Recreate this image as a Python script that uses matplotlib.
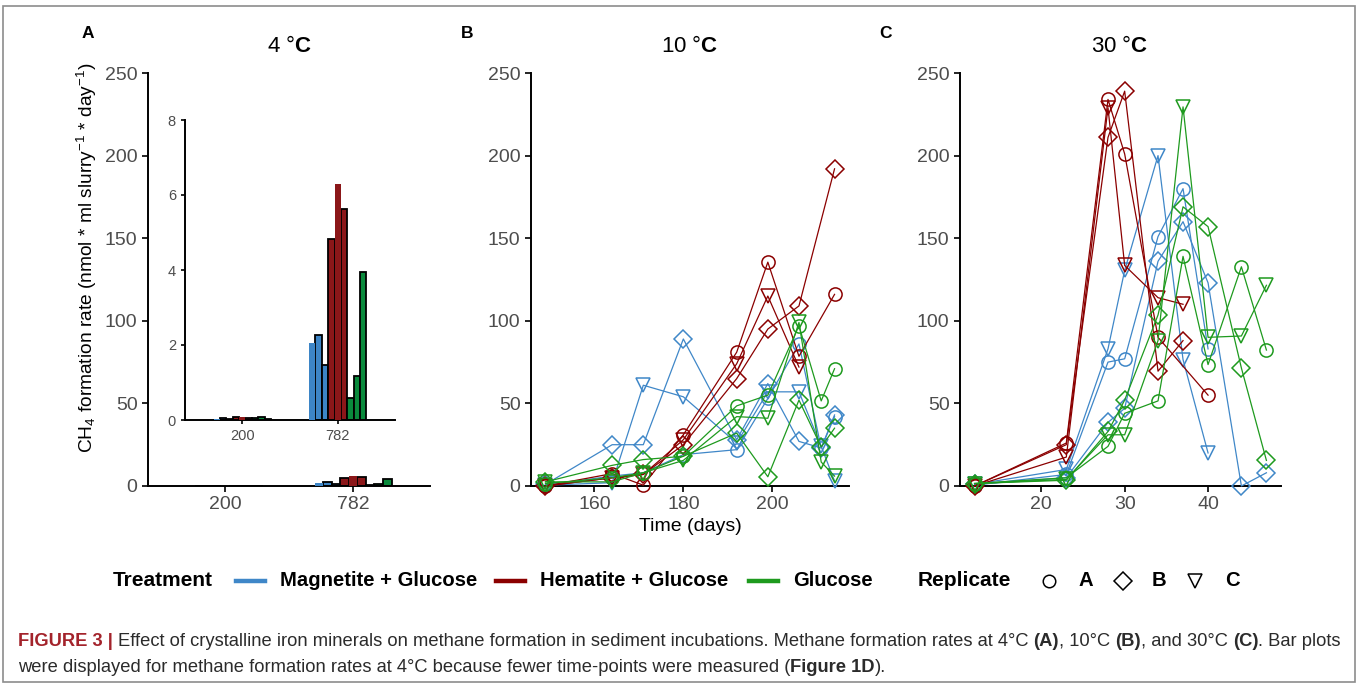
import numpy as np
import matplotlib
matplotlib.use("Agg")
import matplotlib.pyplot as plt
from matplotlib.lines import Line2D
from matplotlib.patches import Rectangle

plt.rcParams['font.family'] = ['Liberation Sans', 'DejaVu Sans']
plt.rcParams['mathtext.fontset'] = 'custom'
plt.rcParams['mathtext.rm'] = 'Liberation Sans'
plt.rcParams['mathtext.bf'] = 'Liberation Sans:bold'
plt.rcParams['mathtext.it'] = 'Liberation Sans:italic'

# ---- data ----
treatments = ['Magnetite + Glucose', 'Hematite + Glucose', 'Glucose']
replicates = ['A', 'B', 'C']
nan = np.nan

# panel A (4 C) bars: time point categories, values per treatment (replicates A, B, C)
a_times = ['200', '782']
a_mag = [[0.03, 0.05, 0.04], [2.06, 2.27, 1.47]]
a_hem = [[0.07, 0.09, 0.06], [4.83, 6.29, 5.62]]
a_glu = [[0.05, 0.08, 0.03], [0.60, 1.17, 3.94]]

# panel B (10 C)
b_days = [149, 164, 171, 180, 192, 199, 206, 211, 214]
b_mag = [[0.5, 6, 8, 19, 22, 53, 86, 23, 42],
         [1, 25, 25, 89, 28, 62, 27, 23, 43],
         [0.5, 2, 61, 54, 26, 57, 57, 24, 3]]
b_hem = [[0, 7.5, 0.5, 31, 81, 135.5, 78.5, nan, 116],
         [0, 5, 7, 25, 65, 95, 109, nan, 192],
         [0, 5, 7, 28, 74, 115, 72, nan, nan]]
b_glu = [[1.5, 5, 8, 18, 48.5, 55, 97, 51.5, 71],
         [2.5, 12.5, 16, 18, 32, 5.6, 52, 23.6, 35],
         [2.5, 2.5, 8, 15.5, 42, 41, 99, 14.5, 6]]

# panel C (30 C)
c_days = [12, 23, 28, 30, 34, 37, 40, 44, 47]
c_mag = [[0.5, 7, 75, 77, 151, 180, 83, nan, nan],
         [1, 5, 38.5, 47, 136, 160, 123, 0, 8],
         [1, 10, 83, 130.5, 200, 76.5, 20, nan, nan]]
c_hem = [[0, 26, 234, 201, 90, nan, 55, nan, nan],
         [0, 25, 211, 239, 69.5, 88, nan, nan, nan],
         [0, 17.5, 229, 133.5, 114, 110, nan, nan, nan]]
c_glu = [[1.5, 5, 24, 44, 51.5, 139, 73.5, 132.7, 82.3],
         [1.5, 3.5, 33, 52, 103.5, 169, 157, 71.4, 15.5],
         [1.5, 4, 31, 31, 88, 229.5, 90, 90.8, 121.5]]

line_cols = ['#3F87C8', '#8B0000', '#1E9A1E']
bar_cols = ['#3D85C6', '#8B1719', '#0A8A3C']
markers = ['o', 'D', 'v']
msizes = [9.5, 9, 10.5]
tick_grey = '#4D4D4D'

fig = plt.figure(figsize=(13.59, 6.87), dpi=100)
W, H = 1359, 687


def px_axes(l, t, r, b):
    return fig.add_axes([l / W, 1 - b / H, (r - l) / W, (b - t) / H])


def style(ax, size=14):
    for s in ['top', 'right']:
        ax.spines[s].set_visible(False)
    for s in ['left', 'bottom']:
        ax.spines[s].set_linewidth(1.4)
    ax.tick_params(length=4, width=1.2, labelsize=size, labelcolor=tick_grey)


# ---- panel A ----
axA = px_axes(148, 73, 430, 486)
axI = px_axes(185, 120, 395, 420)


def draw_bars(ax):
    x = np.arange(len(a_times)) + 1
    w = 0.6 / 9
    k = 0
    for t, vals in enumerate([a_mag, a_hem, a_glu]):
        for r in range(3):
            v = [vals[i][r] for i in range(len(a_times))]
            pos = x - 0.3 + (k + 0.5) * w
            no_edge = (t == 0 and r == 0) or (t == 1 and r == 1)
            ax.bar(pos, v, width=w, color=bar_cols[t],
                   edgecolor='none' if no_edge else 'black',
                   linewidth=1.3, zorder=3 if no_edge else 2)
            k += 1
    ax.set_xticks(x)
    ax.set_xticklabels(a_times)
    ax.set_xlim(0.4, 2.6)


draw_bars(axA)
axA.set_ylim(0, 250)
axA.set_yticks(range(0, 251, 50))
style(axA)
fig.text(87 / W, 1 - 258 / H,
         r'CH$_4$ formation rate (nmol * ml slurry$^{-1}$ * day$^{-1}$)',
         fontsize=13.8, rotation=90, ha='center', va='center')

draw_bars(axI)
axI.set_ylim(0, 8)
axI.set_yticks(range(0, 9, 2))
style(axI, size=10.5)
axI.tick_params(length=3)
axI.patch.set_alpha(0)


# ---- panels B and C ----
def draw_lines(ax, days, groups):
    d = np.array(days, dtype=float)
    for t, grp in enumerate(groups):
        for r, vals in enumerate(grp):
            v = np.array(vals, dtype=float)
            m = ~np.isnan(v)
            ax.plot(d[m], v[m], color=line_cols[t], lw=0.9, marker=markers[r],
                    ms=msizes[r], mfc='none', mec=line_cols[t], mew=1.1,
                    clip_on=False, zorder=3)
    ax.set_ylim(0, 250)
    ax.set_yticks(range(0, 251, 50))
    style(ax)


axB = px_axes(531, 73, 849, 486)
draw_lines(axB, b_days, [b_mag, b_hem, b_glu])
axB.set_xlim(145.75, 217.25)
axB.set_xticks([160, 180, 200])
axB.set_xlabel('Time (days)', fontsize=14, labelpad=3)

axC = px_axes(960, 73, 1281, 486)
draw_lines(axC, c_days, [c_mag, c_hem, c_glu])
axC.set_xlim(10.25, 48.75)
axC.set_xticks([20, 30, 40])

# titles and panel letters
for cx, title in [(289, r'4 °$\mathbf{C}$'), (690, r'10 °$\mathbf{C}$'),
                  (1120, r'30 °$\mathbf{C}$')]:
    fig.text(cx / W, 1 - 47 / H, title, fontsize=16, ha='center', va='center')
lx = {'A': 88, 'B': 467, 'C': 885}
for k, v in lx.items():
    fig.text(v / W, 1 - 33 / H, k, fontsize=12.5, fontweight='bold', ha='center', va='center')

# ---- legend ----
ly = 1 - 581 / H
fig.text(113 / W, ly, 'Treatment', fontsize=15, fontweight='bold', va='center')
key_x = [(236, 265, 280), (496, 525, 540), (749, 778, 793)]
for (x0, x1, tx), lab, c in zip(key_x, treatments, line_cols):
    fig.add_artist(Line2D([x0 / W, x1 / W], [ly, ly], color=c, lw=3.2,
                          transform=fig.transFigure))
    fig.text(tx / W, ly, lab, fontsize=14.6, fontweight='bold', va='center')
fig.text(918 / W, ly, 'Replicate', fontsize=15, fontweight='bold', va='center')
for mx, tx, mk, ms, lab in zip([1049, 1123, 1195], [1086, 1159, 1232],
                                markers, [9, 9.5, 10.5], replicates):
    fig.add_artist(Line2D([mx / W], [ly], marker=mk, ms=ms, mfc='none', mec='black',
                          mew=1.1, transform=fig.transFigure))
    fig.text(tx / W, ly, lab, fontsize=14.6, fontweight='bold', va='center', ha='center')

# ---- caption ----
cap_family = ['Liberation Sans Narrow', 'Liberation Sans', 'DejaVu Sans']
fig_red = '#A3232B'
txt_col = '#2B2B2B'
line1 = [('FIGURE 3 | ', 'bold', fig_red),
         ('Effect of crystalline iron minerals on methane formation in sediment incubations. '
          'Methane formation rates at 4°C ', 'normal', txt_col),
         ('(A)', 'bold', txt_col), (', 10°C ', 'normal', txt_col),
         ('(B)', 'bold', txt_col), (', and 30°C ', 'normal', txt_col),
         ('(C)', 'bold', txt_col), ('. Bar plots', 'normal', txt_col)]
line2 = [('were displayed for methane formation rates at 4°C because fewer time-points '
          'were measured (', 'normal', txt_col),
         ('Figure 1D', 'bold', txt_col), (').', 'normal', txt_col)]

renderer = fig.canvas.get_renderer()


def rich(x, y, pieces, size):
    arts = []
    for txt, wt, col in pieces:
        t = fig.text(x / W, y, txt, fontsize=size, fontweight=wt, color=col,
                     family=cap_family, va='baseline')
        x += t.get_window_extent(renderer).width
        arts.append(t)
    return x, arts


end, arts = rich(18, 0, line1, 11)
for a in arts:
    a.remove()
cap_size = 11 * (1341 - 18) / (end - 18)
rich(18, 1 - 646 / H, line1, cap_size)
rich(18, 1 - 672 / H, line2, cap_size)

# outer frame
fig.add_artist(Rectangle((3 / W, 1 - 682 / H), 1352 / W, 676 / H, fill=False,
                         edgecolor='#8C8C8C', lw=1.2, transform=fig.transFigure))

fig.savefig('out.png', dpi=100)
